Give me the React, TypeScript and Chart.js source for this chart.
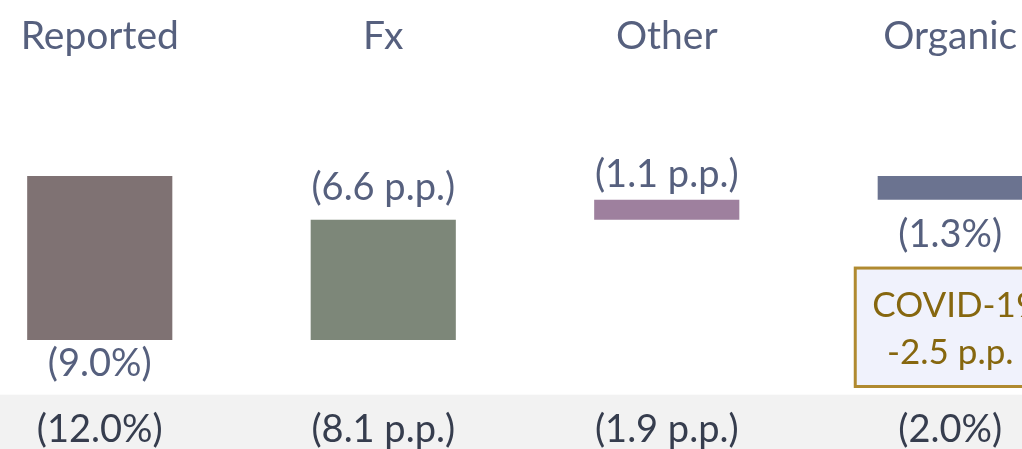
import React, { useEffect, useRef } from "react";
import { Chart, registerables } from "chart.js";

Chart.register(...registerables);

const categories = ["Reported", "Fx", "Other", "Organic"];
const reported = -9.0;
const fxImpact = 6.6;
const otherImpact = 1.1;
const organic = -1.3;
const barLabels = ["(9.0%)", "(6.6 p.p.)", "(1.1 p.p.)", "(1.3%)"];
const bottomLabels = ["(12.0%)", "(8.1 p.p.)", "(1.9 p.p.)", "(2.0%)"];
const barColors = ["#7f7273", "#7d8779", "#9e809e", "#6b7390"];
const covidLines = ["COVID-19", "-2.5 p.p."];
const bandTopValue = -12.0;

const FONT = "Lato, 'Open Sans', sans-serif";

export default function App() {
  const ref = useRef<HTMLCanvasElement | null>(null);

  useEffect(() => {
    if (!ref.current) return;
    const afterFx = reported + fxImpact;
    const afterOther = afterFx + otherImpact;
    const floats: [number, number][] = [
      [reported, 0],
      [reported, afterFx],
      [afterFx, afterOther],
      [organic, 0],
    ];

    const decor = {
      id: "decor",
      beforeDatasetsDraw(chart: any) {
        const { ctx, scales } = chart;
        const y = scales.y;
        const bandTop = y.getPixelForValue(bandTopValue);
        ctx.save();
        ctx.fillStyle = "#f2f2f2";
        ctx.fillRect(0, bandTop, chart.width, chart.height - bandTop);
        ctx.restore();
      },
      afterDatasetsDraw(chart: any) {
        const { ctx, scales } = chart;
        const x = scales.x;
        const y = scales.y;
        ctx.save();
        ctx.textAlign = "center";
        ctx.textBaseline = "alphabetic";
        // category names
        ctx.font = `39px ${FONT}`;
        ctx.fillStyle = "#56607e";
        categories.forEach((c, i) => {
          ctx.fillText(c, x.getPixelForValue(i), 49);
        });
        // bar labels
        ctx.font = `38px ${FONT}`;
        const labelY = [
          y.getPixelForValue(floats[0][0]) + 36,
          y.getPixelForValue(floats[1][1]) - 20,
          y.getPixelForValue(floats[2][1]) - 13,
          y.getPixelForValue(floats[3][0]) + 47,
        ];
        ctx.fillStyle = "#56607e";
        barLabels.forEach((l, i) => {
          ctx.fillText(l, x.getPixelForValue(i), labelY[i]);
        });
        // bottom labels
        ctx.fillStyle = "#363d4e";
        bottomLabels.forEach((l, i) => {
          ctx.fillText(l, x.getPixelForValue(i), 442);
        });
        // covid box
        const cx = x.getPixelForValue(3);
        const top = y.getPixelForValue(-5.05);
        const bot = y.getPixelForValue(-11.55);
        const w = 190;
        ctx.fillStyle = "#f0f2fc";
        ctx.fillRect(cx - w / 2, top, w, bot - top);
        ctx.strokeStyle = "#b08a30";
        ctx.lineWidth = 3;
        ctx.strokeRect(cx - w / 2, top, w, bot - top);
        ctx.font = `35px ${FONT}`;
        ctx.fillStyle = "#86670f";
        ctx.fillText(covidLines[0], cx + 4, top + 49);
        ctx.fillText(covidLines[1], cx, top + 96);
        ctx.restore();
      },
    };

    const chart = new Chart(ref.current, {
      type: "bar",
      data: {
        labels: categories,
        datasets: [
          {
            data: floats as any,
            backgroundColor: barColors,
            borderWidth: 0,
            categoryPercentage: 1,
            barPercentage: 0.512,
          },
        ],
      },
      options: {
        responsive: false,
        animation: false,
        layout: { padding: 0 },
        plugins: {
          legend: { display: false },
          tooltip: { enabled: false },
        },
        scales: {
          x: { display: false, offset: true },
          y: { display: false, min: -14.98, max: 9.66 },
        },
      },
      plugins: [decor],
    });
    return () => chart.destroy();
  }, []);

  return (
    <div
      style={{
        position: "absolute",
        left: 0,
        top: 0,
        width: 1022,
        height: 449,
        overflow: "hidden",
        background: "#ffffff",
      }}
    >
      <canvas
        ref={ref}
        width={1134}
        height={449}
        style={{ position: "absolute", left: -42, top: 0, width: 1134, height: 449 }}
      />
    </div>
  );
}
